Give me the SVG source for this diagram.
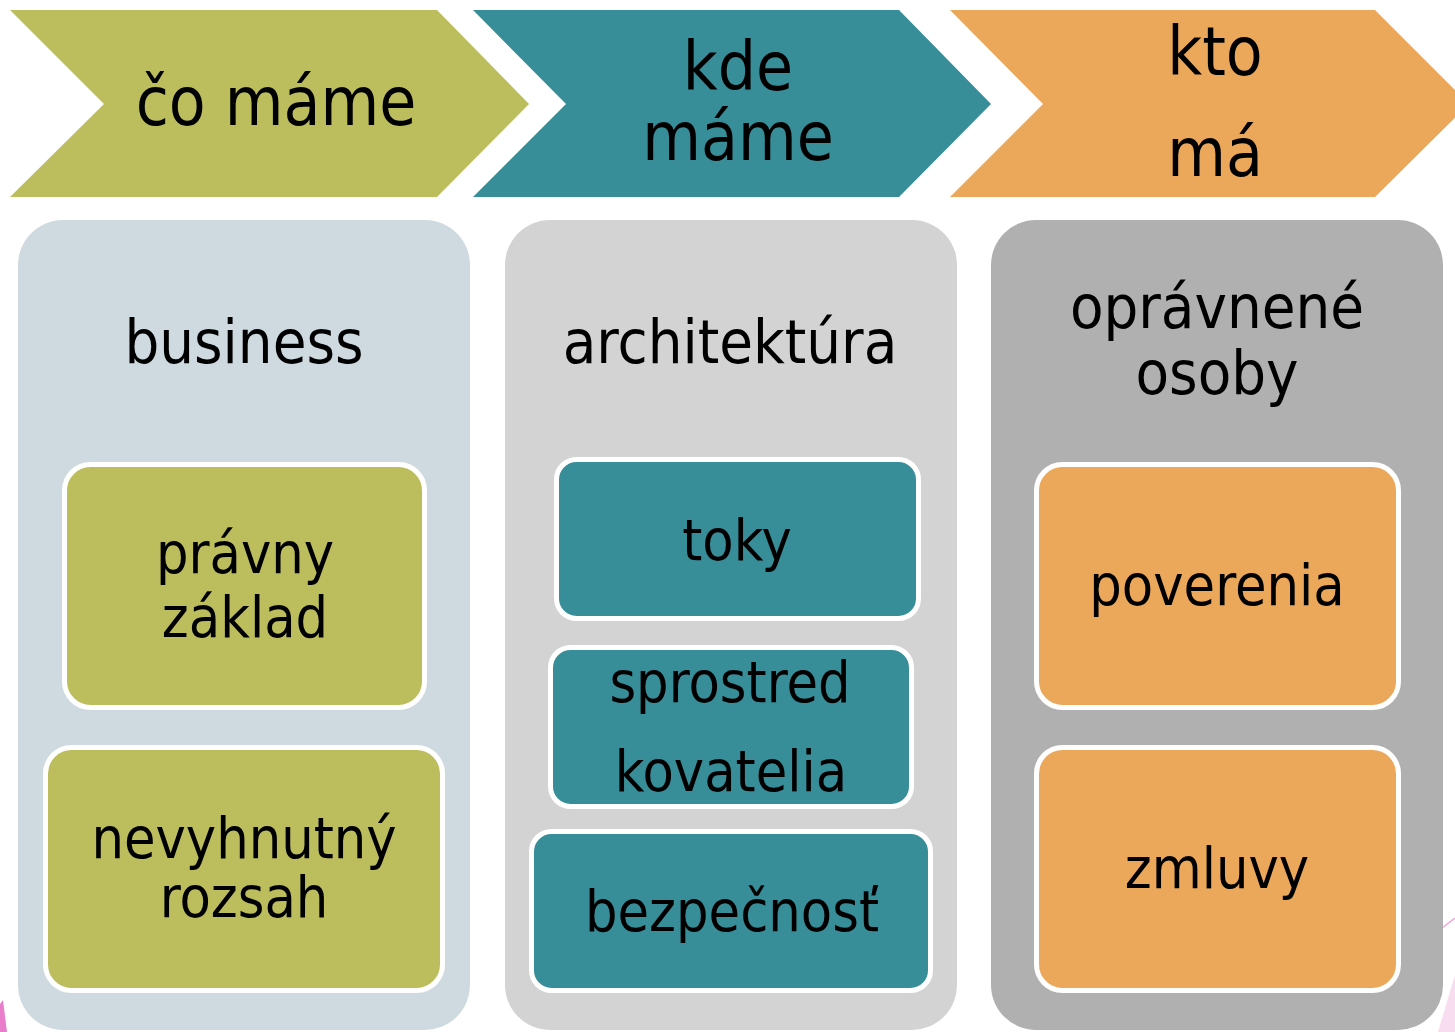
<svg xmlns="http://www.w3.org/2000/svg" width="1455" height="1032" viewBox="0 0 1455 1032">
<style>
text{font-family:"DejaVu Sans Condensed","DejaVu Sans",sans-serif;font-stretch:condensed;fill:#000;text-anchor:middle}
.chev{font-size:67px}
.head{font-size:61px}
.item{font-size:57px}
.box{stroke:#fff;stroke-width:5}
.olive{fill:#BCBE5D}
.teal{fill:#378E99}
.orange{fill:#ECA85A}
</style>
<rect width="1455" height="1032" fill="#fff"/>
<g id="decor">
<polygon points="0,1004 3,1000 7,1032 0,1032" fill="#E97FCB"/>
<polygon points="1438,1032 1455,975 1455,1032" fill="#F8DCEF"/>
<line x1="1442" y1="928" x2="1455" y2="918" stroke="#F2A6DA" stroke-width="1.5"/>
</g>
<g id="chevron-co-mame">
<polygon class="olive" points="10,10 437,10 529,104 437,197 10,197 104,104"/>
<text class="chev" x="276" y="125">čo máme</text>
</g>
<g id="chevron-kde-mame">
<polygon class="teal" points="473,10 899,10 991,104 899,197 473,197 566,104"/>
<text class="chev" x="738" y="90">kde</text>
<text class="chev" x="738" y="160">máme</text>
</g>
<g id="chevron-kto-ma">
<polygon class="orange" points="950,10 1375,10 1469,104 1375,197 950,197 1043,104"/>
<text class="chev" x="1215" y="75">kto</text>
<text class="chev" x="1215" y="176">má</text>
</g>
<g id="panel-business">
<rect x="18" y="220" width="452" height="810" rx="45" fill="#CFDAE0"/>
<text class="head" x="244" y="363">business</text>
</g>
<g id="panel-architektura">
<rect x="505" y="220" width="452" height="810" rx="45" fill="#D3D3D3"/>
<text class="head" x="730" y="363">architektúra</text>
</g>
<g id="panel-opravnene-osoby">
<rect x="991" y="220" width="452" height="810" rx="45" fill="#B0B0B0"/>
<text class="head" x="1217" y="328">oprávnené</text>
<text class="head" x="1217" y="394">osoby</text>
</g>
<g id="box-pravny-zaklad">
<rect class="box olive" x="64.5" y="464.5" width="360" height="243" rx="26"/>
<text class="item" x="245" y="573">právny</text>
<text class="item" x="245" y="637">základ</text>
</g>
<g id="box-nevyhnutny-rozsah">
<rect class="box olive" x="45.5" y="747.5" width="397" height="243" rx="26"/>
<text class="item" x="244" y="858">nevyhnutný</text>
<text class="item" x="244" y="917">rozsah</text>
</g>
<g id="box-toky">
<rect class="box teal" x="556.5" y="459.5" width="362" height="159" rx="20"/>
<text class="item" x="737" y="560">toky</text>
</g>
<g id="box-sprostredkovatelia">
<rect class="box teal" x="550.5" y="647.5" width="361" height="159" rx="20"/>
<text class="item" x="730" y="702">sprostred</text>
<text class="item" x="731" y="791">kovatelia</text>
</g>
<g id="box-bezpecnost">
<rect class="box teal" x="531.5" y="831.5" width="399" height="159" rx="20"/>
<text class="item" x="732" y="931">bezpečnosť</text>
</g>
<g id="box-poverenia">
<rect class="box orange" x="1036.5" y="464.5" width="362" height="243" rx="26"/>
<text class="item" x="1217" y="605">poverenia</text>
</g>
<g id="box-zmluvy">
<rect class="box orange" x="1036.5" y="747.5" width="362" height="243" rx="26"/>
<text class="item" x="1217" y="888">zmluvy</text>
</g>
<g id="connectors"/>
</svg>
